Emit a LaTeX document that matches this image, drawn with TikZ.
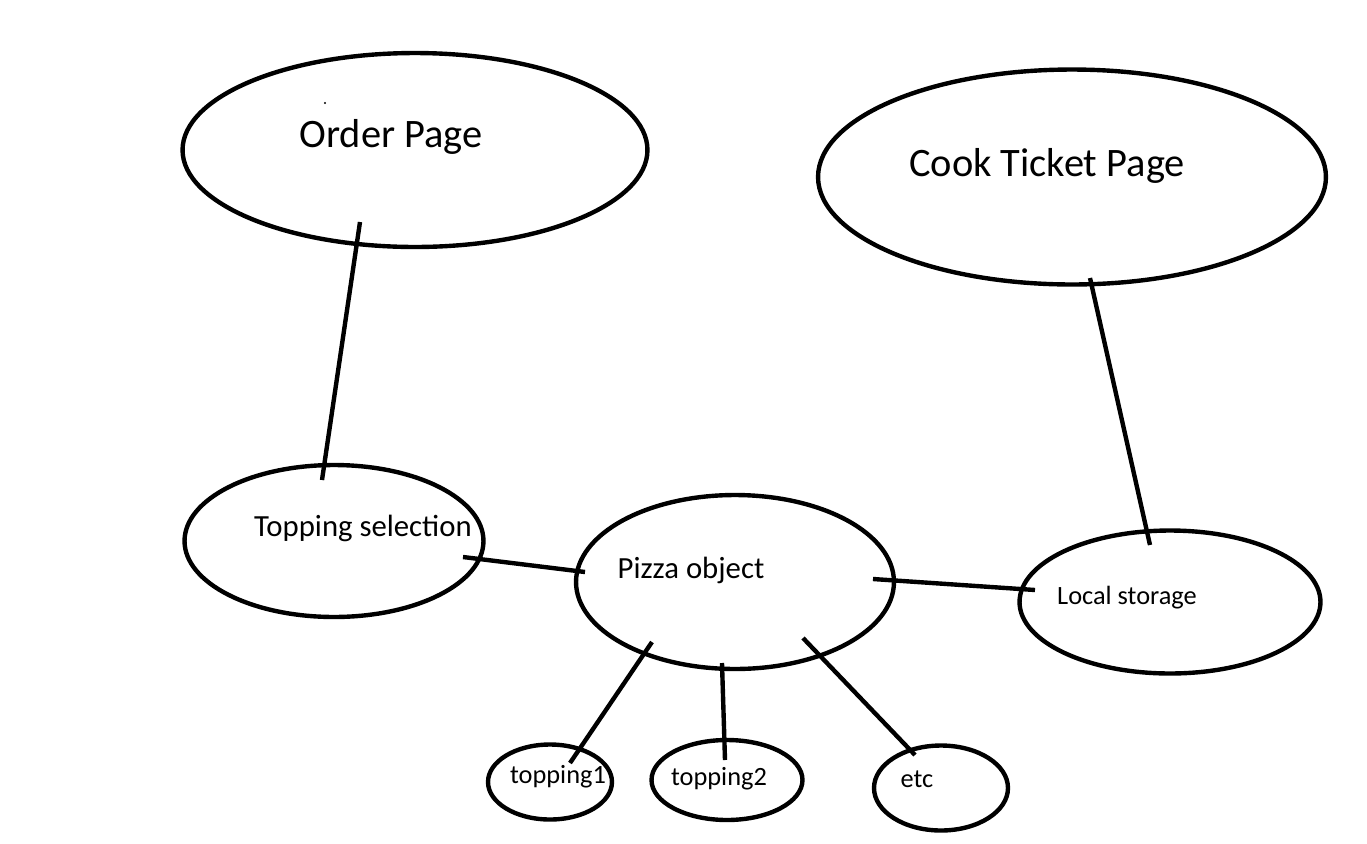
\documentclass[tikz,border=0pt]{standalone}
\usepackage{fontspec}
\setmainfont{Carlito}
\usetikzlibrary{shapes.geometric}
\begin{document}
\begin{tikzpicture}[x=0.02cm,y=-0.02cm,
  oval/.style={draw=black,line width=2.5pt,ellipse,inner sep=0pt},
  wire/.style={draw=black,line width=2.5pt},
  lbl/.style={anchor=base,inner sep=0pt},
  big/.style={font=\fontsize{23}{26}\selectfont},
  mid/.style={font=\fontsize{17.5}{20}\selectfont},
  small/.style={font=\fontsize{15}{17}\selectfont}]
\useasboundingbox (0,0) rectangle (1367,843);
% ellipses
\node[oval,minimum width=9.30cm,minimum height=3.88cm] (order) at (415,150) {};
\node[oval,minimum width=10.16cm,minimum height=4.30cm] (cook) at (1072,177) {};
\node[oval,minimum width=5.98cm,minimum height=3.04cm] (topsel) at (334,541) {};
\node[oval,minimum width=6.36cm,minimum height=3.48cm] (pizza) at (735,582) {};
\node[oval,minimum width=6.02cm,minimum height=2.86cm] (local) at (1170,602) {};
\node[oval,minimum width=2.48cm,minimum height=1.50cm] (t1) at (550,782) {};
\node[oval,minimum width=3.02cm,minimum height=1.60cm] (t2) at (727,780) {};
\node[oval,minimum width=2.68cm,minimum height=1.70cm] (etc) at (941,788) {};
% labels
\node[lbl,big] (orderL) at (391,147) {Order Page};
\node[lbl,big] (cookL) at (1047,176) {Cook Ticket Page};
\node[lbl,mid] (topselL) at (363,536) {Topping selection};
\node[lbl,mid] (pizzaL) at (691,578) {Pizza object};
\node[lbl,small] (localL) at (1127,604) {Local storage};
\node[lbl,small] (t1L) at (558,783) {topping1};
\node[lbl,small] (t2L) at (719,785) {topping2};
\node[lbl,small] (etcL) at (917,787) {etc};
% stray dot
\fill (325,103) circle (1.2);
% connector end points
\coordinate (a1) at (360,222); \coordinate (a2) at (322,480);
\coordinate (b1) at (1090,278); \coordinate (b2) at (1150,545);
\coordinate (c1) at (463,557); \coordinate (c2) at (585,572);
\coordinate (d1) at (873,579); \coordinate (d2) at (1035,590);
\coordinate (e1) at (652,642); \coordinate (e2) at (570,763);
\coordinate (f1) at (722,663); \coordinate (f2) at (725,760);
\coordinate (g1) at (803,638); \coordinate (g2) at (915,755);
\draw[wire] (a1) -- (a2);
\draw[wire] (b1) -- (b2);
\draw[wire] (c1) -- (c2);
\draw[wire] (d1) -- (d2);
\draw[wire] (e1) -- (e2);
\draw[wire] (f1) -- (f2);
\draw[wire] (g1) -- (g2);
\end{tikzpicture}
\end{document}
